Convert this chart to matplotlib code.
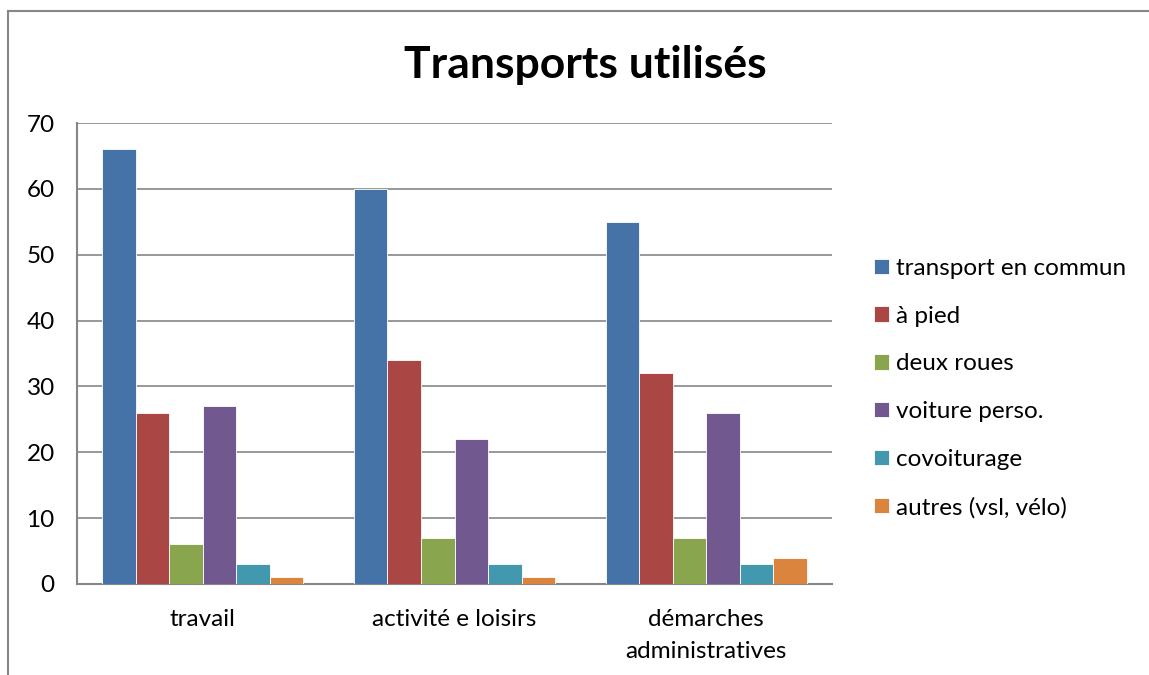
import matplotlib
matplotlib.use("Agg")
import matplotlib.pyplot as plt
import numpy as np
from matplotlib.lines import Line2D

categories = ["travail", "activité e loisirs", "démarches\nadministratives"]
series = ["transport en commun", "à pied", "deux roues", "voiture perso.", "covoiturage", "autres (vsl, vélo)"]
values = [
    [66, 60, 55],
    [26, 34, 32],
    [6, 7, 7],
    [27, 22, 26],
    [3, 3, 3],
    [1, 1, 4],
]
colors = ["#4572A7", "#AA4643", "#89A54E", "#71588F", "#4198AF", "#DB843D"]
yticks = [0, 10, 20, 30, 40, 50, 60, 70]

plt.rcParams['font.family'] = ['Lato', 'DejaVu Sans']

W, H = 1149, 675
fig = plt.figure(figsize=(W/100, H/100), dpi=100)
ax = fig.add_axes([77/W, 1-584/H, (832-77)/W, (584-123)/H])

x = np.arange(len(categories))
bw = 1/7.5
for i, (s, v, c) in enumerate(zip(series, values, colors)):
    ax.bar(x + (i - 2.5)*bw, v, width=bw, color=c, label=s, edgecolor='white', linewidth=0.6, zorder=3)

ax.set_xlim(-0.5, 2.5)
ax.set_ylim(0, 70)
ax.set_yticks(yticks)
ax.set_yticklabels([str(t) for t in yticks], fontsize=17.5)
ax.set_xticks(x)
ax.set_xticklabels(categories, fontsize=17.5, linespacing=1.65)
ax.tick_params(axis='x', length=0, pad=18)
ax.tick_params(axis='y', length=0, pad=16)
ax.grid(axis='y', color='#868686', linewidth=1.2, zorder=0)
for sp in ['top', 'right']:
    ax.spines[sp].set_visible(False)
for sp in ['left', 'bottom']:
    ax.spines[sp].set_color('#868686')
    ax.spines[sp].set_linewidth(1.5)

fig.text(585/W, 1-65/H, "Transports utilisés", ha='center', va='center', fontsize=32, fontweight='bold')

leg = fig.legend(loc='center left', bbox_to_anchor=(862/W, 1-388/H), frameon=False,
                 fontsize=17.5, handlelength=0.6, handleheight=0.6, handletextpad=0.3,
                 labelspacing=1.1, borderpad=0)

# outer chart border (left and top)
fig.add_artist(Line2D([8/W, 8/W], [0, 1-11/H], transform=fig.transFigure, color='#868686', linewidth=1.5))
fig.add_artist(Line2D([8/W, 1], [1-11/H, 1-11/H], transform=fig.transFigure, color='#868686', linewidth=1.5))

fig.savefig("out.png", dpi=100)
